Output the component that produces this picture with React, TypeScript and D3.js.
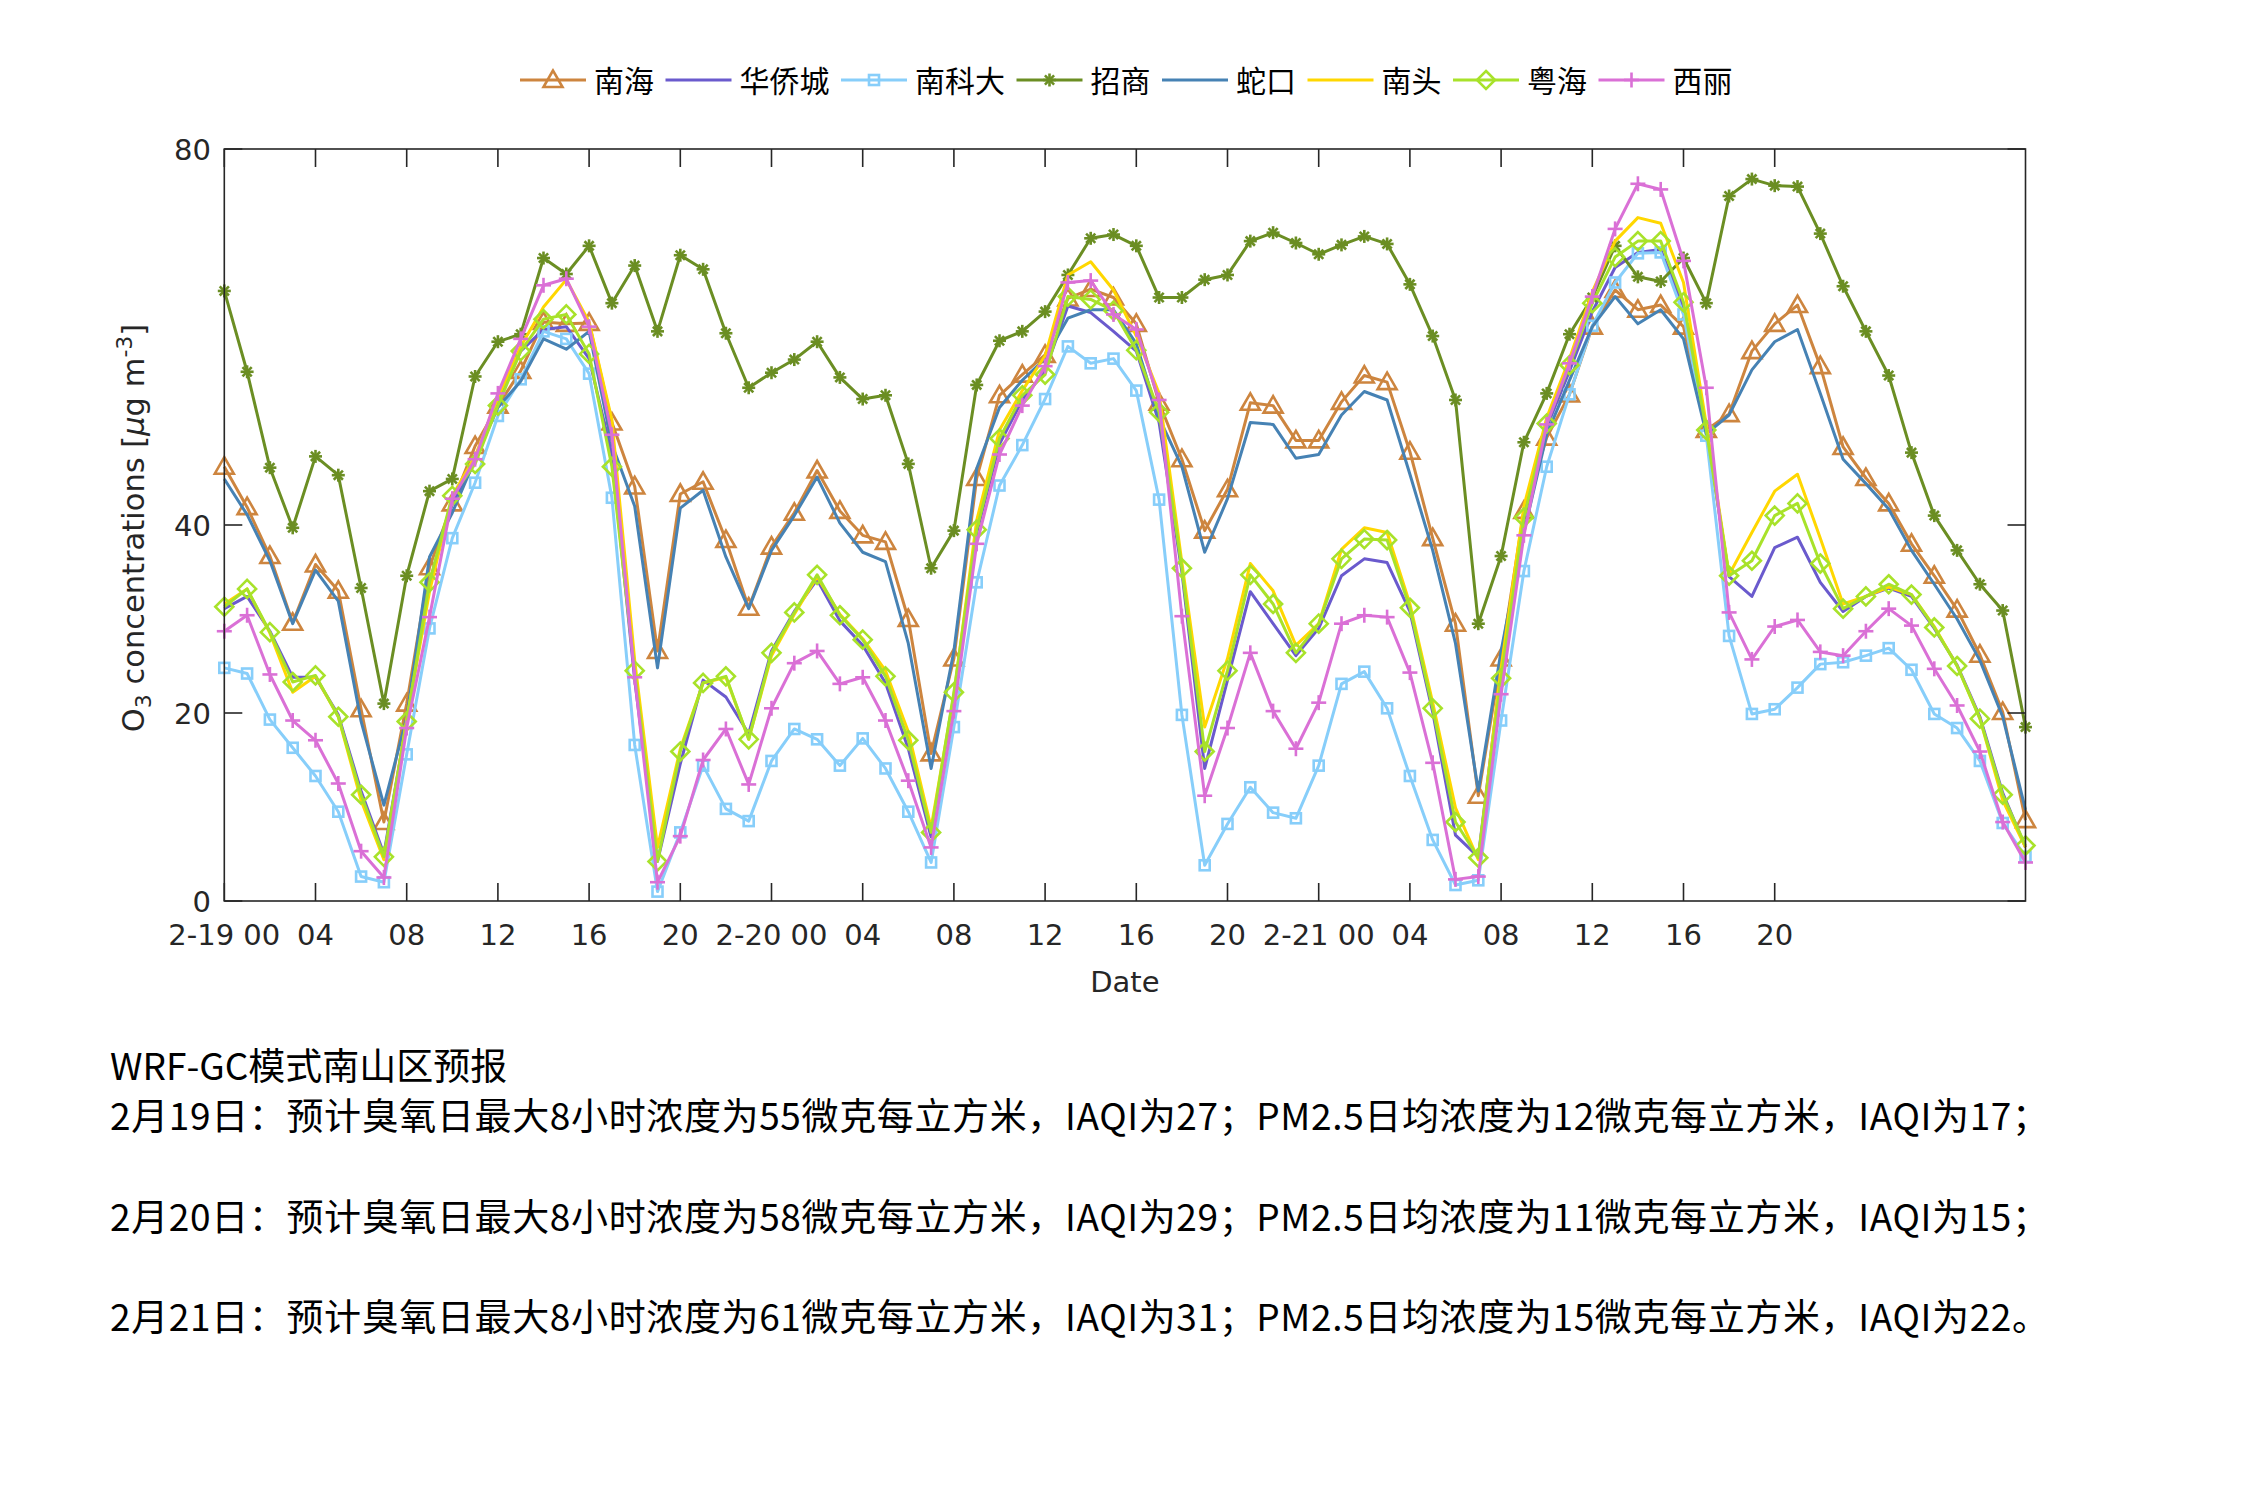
import React from 'react';
import * as d3 from 'd3';

const seriesNames = ['南海', '华侨城', '南科大', '招商', '蛇口', '南头', '粤海', '西丽'];
const seriesColors = ['#CD853F', '#6A5ACD', '#87CEFA', '#6B8E23', '#4682B4', '#FFD700', '#A8E22A', '#DA70D6'];
const seriesMarkers = ['triangle', 'none', 'square', 'asterisk', 'none', 'none', 'diamond', 'plus'];

const nanhai = [46.2, 41.9, 36.7, 29.6, 35.8, 33.0, 20.4, 8.4, 21.0, 35.5, 42.3, 48.4, 52.7, 56.4,
  61.6, 61.4, 61.5, 50.9, 44.1, 26.6, 43.3, 44.6, 38.4, 31.2, 37.7, 41.3, 45.8,
  41.5, 38.9, 38.2, 30.0, 15.7, 25.8, 45.0, 53.8, 56.0, 58.1, 64.1, 65.1, 64.2,
  61.4, 53.0, 47.0, 39.4, 43.8, 53.0, 52.7, 49.0, 49.0, 53.1, 55.9, 55.2, 47.8,
  38.6, 29.5, 11.2, 25.8, 41.5, 49.3, 53.9, 61.1, 65.0, 62.9, 63.4, 61.1, 50.1,
  51.8, 58.5, 61.4, 63.4, 56.9, 48.3, 45.0, 42.3, 38.0, 34.6, 31.0, 26.2, 20.1, 8.6];
const huaqiaocheng = [31.1, 32.4, 28.7, 23.8, 23.8, 19.8, 11.7, 5.0, 19.1, 33.9, 42.3, 46.7, 53.3, 58.5,
  60.8, 61.1, 57.7, 47.5, 23.5, 4.2, 14.6, 23.5, 21.7, 17.8, 26.6, 30.8, 34.2,
  29.8, 27.2, 23.2, 16.2, 6.8, 21.4, 39.2, 48.6, 53.3, 56.4, 63.3, 62.6, 60.6,
  58.5, 50.9, 35.0, 14.1, 23.5, 32.9, 29.5, 26.1, 29.0, 34.6, 36.4, 36.0, 30.8,
  20.1, 7.0, 4.7, 24.5, 40.7, 50.4, 56.4, 62.7, 67.4, 69.0, 69.3, 63.2, 50.1,
  34.5, 32.4, 37.6, 38.7, 33.9, 30.8, 32.4, 33.3, 32.4, 29.0, 25.1, 19.6, 11.5, 5.7];
const nankeda = [24.8, 24.2, 19.3, 16.3, 13.3, 9.5, 2.6, 2.0, 15.6, 29.0, 38.6, 44.5, 51.6, 55.5,
  60.6, 59.8, 56.1, 42.9, 16.6, 1.0, 7.3, 14.4, 9.8, 8.5, 14.9, 18.3, 17.2,
  14.4, 17.3, 14.1, 9.5, 4.1, 18.5, 33.9, 44.2, 48.5, 53.4, 59.0, 57.2, 57.7,
  54.3, 42.7, 19.8, 3.8, 8.2, 12.1, 9.4, 8.8, 14.4, 23.1, 24.4, 20.5, 13.3,
  6.5, 1.7, 2.2, 19.2, 35.1, 46.2, 53.9, 61.2, 65.8, 68.9, 69.0, 62.4, 49.5,
  28.2, 19.9, 20.4, 22.7, 25.2, 25.4, 26.1, 26.9, 24.6, 19.9, 18.4, 14.9, 8.3, 4.7];
const zhaoshang = [64.9, 56.3, 46.1, 39.7, 47.3, 45.3, 33.3, 21.0, 34.6, 43.6, 44.9, 55.8, 59.5, 60.3,
  68.4, 66.7, 69.7, 63.6, 67.6, 60.6, 68.7, 67.2, 60.4, 54.6, 56.2, 57.6, 59.5,
  55.7, 53.4, 53.8, 46.5, 35.4, 39.4, 54.9, 59.6, 60.6, 62.7, 66.6, 70.5, 70.9,
  69.7, 64.2, 64.2, 66.1, 66.6, 70.2, 71.1, 70.0, 68.8, 69.8, 70.7, 69.9, 65.6,
  60.1, 53.3, 29.5, 36.7, 48.8, 54.0, 60.3, 64.2, 69.7, 66.4, 65.9, 68.4, 63.6,
  75.0, 76.8, 76.1, 76.0, 71.0, 65.4, 60.6, 55.9, 47.7, 41.0, 37.3, 33.7, 30.9, 18.5];
const shekou = [44.9, 41.1, 36.2, 29.5, 35.2, 31.9, 19.1, 10.2, 19.5, 36.6, 41.3, 47.0, 52.5, 55.3,
  59.8, 58.7, 60.6, 48.6, 42.0, 24.8, 41.8, 43.7, 36.6, 31.1, 37.3, 41.0, 45.1,
  40.2, 37.1, 36.1, 27.4, 14.1, 26.6, 46.0, 52.5, 55.4, 57.7, 62.0, 62.9, 62.9,
  59.3, 51.4, 46.2, 37.1, 42.8, 50.9, 50.7, 47.1, 47.5, 51.7, 54.2, 53.3, 45.4,
  37.3, 27.4, 11.7, 26.6, 39.2, 49.6, 55.4, 61.1, 64.3, 61.4, 62.9, 59.8, 49.7,
  51.7, 56.5, 59.5, 60.8, 54.0, 47.0, 44.4, 41.7, 37.3, 33.7, 30.0, 25.6, 19.6, 9.7];
const nantou = [31.6, 33.2, 28.5, 22.2, 23.9, 19.6, 10.7, 4.4, 19.3, 32.9, 43.1, 47.3, 53.5, 59.0,
  63.2, 66.1, 61.6, 51.2, 25.6, 5.7, 16.2, 23.2, 23.8, 17.2, 26.1, 30.5, 34.5,
  30.5, 27.9, 24.5, 18.0, 7.8, 21.9, 40.5, 50.1, 54.3, 58.0, 66.6, 68.0, 65.0,
  60.1, 54.0, 36.0, 18.5, 25.8, 35.9, 33.0, 27.2, 29.5, 37.4, 39.7, 39.2, 31.6,
  21.1, 9.9, 4.4, 24.8, 42.0, 51.4, 57.7, 64.8, 70.2, 72.7, 72.1, 65.8, 50.7,
  34.7, 39.2, 43.6, 45.4, 38.6, 31.6, 32.4, 33.4, 32.6, 29.2, 25.0, 19.4, 10.7, 5.7];
const yuehai = [31.3, 33.2, 28.6, 23.3, 24.0, 19.6, 11.3, 4.7, 19.1, 33.9, 43.1, 46.5, 52.7, 58.5,
  61.9, 62.4, 58.2, 46.2, 24.5, 4.2, 15.9, 23.2, 23.9, 17.2, 26.4, 30.7, 34.7,
  30.4, 27.8, 23.9, 17.1, 7.3, 22.2, 39.5, 49.2, 53.8, 56.0, 64.3, 64.0, 62.8,
  58.6, 52.0, 35.4, 15.9, 24.5, 34.7, 31.6, 26.4, 29.5, 36.4, 38.5, 38.4, 31.2,
  20.5, 8.4, 4.6, 23.7, 40.8, 50.8, 57.0, 63.6, 68.5, 70.2, 70.2, 63.7, 50.1,
  34.6, 36.2, 41.0, 42.3, 35.9, 31.1, 32.4, 33.7, 32.6, 29.1, 25.0, 19.4, 11.3, 5.9];
const xili = [28.7, 30.4, 24.1, 19.2, 17.1, 12.5, 5.3, 2.5, 18.4, 30.2, 42.8, 47.0, 54.0, 59.8,
  65.5, 66.2, 61.1, 49.6, 23.8, 2.0, 6.9, 15.0, 18.3, 12.4, 20.5, 25.3, 26.6,
  23.1, 23.8, 19.2, 12.8, 5.7, 20.2, 38.0, 47.5, 52.7, 56.9, 65.8, 66.0, 62.4,
  60.8, 53.3, 30.3, 11.2, 18.4, 26.4, 20.2, 16.2, 21.1, 29.5, 30.4, 30.2, 24.3,
  14.7, 2.3, 2.6, 22.0, 38.9, 50.7, 57.2, 64.3, 71.5, 76.3, 75.7, 68.1, 54.6,
  30.7, 25.7, 29.2, 29.9, 26.5, 26.1, 28.7, 31.1, 29.3, 24.7, 20.8, 15.9, 8.4, 4.1];

const seriesValues = [nanhai, huaqiaocheng, nankeda, zhaoshang, shekou, nantou, yuehai, xili];

const xTickHours = [0, 4, 8, 12, 16, 20, 24, 28, 32, 36, 40, 44, 48, 52, 56, 60, 64, 68];
const xTickLabels = ['2-19 00', '04', '08', '12', '16', '20', '2-20 00', '04', '08', '12', '16', '20', '2-21 00', '04', '08', '12', '16', '20'];
const yTicks = [0, 20, 40, 80];

const textLines = [
  'WRF-GC模式南山区预报',
  '2月19日：预计臭氧日最大8小时浓度为55微克每立方米，IAQI为27；PM2.5日均浓度为12微克每立方米，IAQI为17；',
  '',
  '2月20日：预计臭氧日最大8小时浓度为58微克每立方米，IAQI为29；PM2.5日均浓度为11微克每立方米，IAQI为15；',
  '',
  '2月21日：预计臭氧日最大8小时浓度为61微克每立方米，IAQI为31；PM2.5日均浓度为15微克每立方米，IAQI为22。',
];

const AX = '#262626';
const TICK_FONT = '"DejaVu Sans", sans-serif';
const CJK_FONT = '"Noto Sans CJK SC", sans-serif';

function Marker({ type, cx, cy, color }: { type: string; cx: number; cy: number; color: string }) {
  const sw = 2.6;
  if (type === 'triangle') {
    return <polygon points={`${cx},${cy - 9.5} ${cx - 9.5},${cy + 7} ${cx + 9.5},${cy + 7}`} fill="none" stroke={color} strokeWidth={sw} />;
  }
  if (type === 'square') {
    return <rect x={cx - 5} y={cy - 5} width={10} height={10} fill="none" stroke={color} strokeWidth={sw} />;
  }
  if (type === 'diamond') {
    return <polygon points={`${cx},${cy - 9} ${cx + 9},${cy} ${cx},${cy + 9} ${cx - 9},${cy}`} fill="none" stroke={color} strokeWidth={sw} />;
  }
  if (type === 'plus') {
    return (
      <g stroke={color} strokeWidth={sw}>
        <line x1={cx - 7.5} y1={cy} x2={cx + 7.5} y2={cy} />
        <line x1={cx} y1={cy - 7.5} x2={cx} y2={cy + 7.5} />
      </g>
    );
  }
  if (type === 'asterisk') {
    const r = 6.5, d = 4.6;
    return (
      <g stroke={color} strokeWidth={2.6}>
        <line x1={cx - r} y1={cy} x2={cx + r} y2={cy} />
        <line x1={cx} y1={cy - r} x2={cx} y2={cy + r} />
        <line x1={cx - d} y1={cy - d} x2={cx + d} y2={cy + d} />
        <line x1={cx - d} y1={cy + d} x2={cx + d} y2={cy - d} />
      </g>
    );
  }
  return null;
}

export default function App() {
  const W = 2250, H = 1500;
  const left = 224.3, right = 2025.5, top = 149, bottom = 901;
  const x = d3.scaleLinear().domain([0, 79]).range([left, right]);
  const y = d3.scaleLinear().domain([0, 80]).range([bottom, top]);
  const line = d3.line<number>().x((_, i) => x(i)).y((d) => y(d));
  const tickLen = 18;

  const legendY = 80;
  let lx = 520;
  const legendItems = seriesNames.map((name, i) => {
    const item = { name, i, x: lx };
    lx += 74 + 30 * name.length + 11.5;
    return item;
  });

  return (
    <svg width={W} height={H} style={{ position: 'absolute', left: 0, top: 0, background: '#fff' }} xmlns="http://www.w3.org/2000/svg">
      <rect x={0} y={0} width={W} height={H} fill="#fff" />

      {seriesValues.map((vals, si) => (
        <g key={si}>
          <path d={line(vals) || ''} fill="none" stroke={seriesColors[si]} strokeWidth={3} strokeLinejoin="round" />
          {seriesMarkers[si] !== 'none' &&
            vals.map((v, i) => <Marker key={i} type={seriesMarkers[si]} cx={x(i)} cy={y(v)} color={seriesColors[si]} />)}
        </g>
      ))}

      <rect x={left} y={top} width={right - left} height={bottom - top} fill="none" stroke={AX} strokeWidth={1.6} />

      {xTickHours.map((h, i) => (
        <g key={'xt' + i}>
          <line x1={x(h)} x2={x(h)} y1={bottom} y2={bottom - tickLen} stroke={AX} strokeWidth={1.6} />
          <line x1={x(h)} x2={x(h)} y1={top} y2={top + tickLen} stroke={AX} strokeWidth={1.6} />
          <text x={x(h)} y={945} textAnchor="middle" fontFamily={TICK_FONT} fontSize={29} fill={AX}>
            {xTickLabels[i]}
          </text>
        </g>
      ))}

      {yTicks.map((t) => (
        <g key={'yt' + t}>
          <line x1={left} x2={left + tickLen} y1={y(t)} y2={y(t)} stroke={AX} strokeWidth={1.6} />
          <line x1={right} x2={right - tickLen} y1={y(t)} y2={y(t)} stroke={AX} strokeWidth={1.6} />
          <text x={211} y={y(t) + 10.5} textAnchor="end" fontFamily={TICK_FONT} fontSize={29} fill={AX}>
            {t}
          </text>
        </g>
      ))}

      <text x={(left + right) / 2} y={992} textAnchor="middle" fontFamily={TICK_FONT} fontSize={29} fill={AX}>
        Date
      </text>
      <text transform={`translate(144, ${(top + bottom) / 2 + 3}) rotate(-90)`} textAnchor="middle" fontFamily={TICK_FONT} fontSize={30.5} fill={AX}>
        <tspan>O</tspan>
        <tspan fontSize={22} dy={7}>3</tspan>
        <tspan dy={-7}> concentrations [</tspan>
        <tspan fontStyle="italic">μ</tspan>
        <tspan>g m</tspan>
        <tspan fontSize={22} dy={-12}>-3</tspan>
        <tspan dy={12}>]</tspan>
      </text>

      {legendItems.map((it) => (
        <g key={'lg' + it.i}>
          <line x1={it.x} x2={it.x + 66} y1={legendY} y2={legendY} stroke={seriesColors[it.i]} strokeWidth={3} />
          <Marker type={seriesMarkers[it.i]} cx={it.x + 33} cy={legendY} color={seriesColors[it.i]} />
          <text x={it.x + 74} y={legendY + 11.5} fontFamily={CJK_FONT} fontSize={30} fill="#000">
            {it.name}
          </text>
        </g>
      ))}

      {textLines.map((t, i) => (
        <text
          key={'tl' + i}
          x={110}
          y={1080 + i * 50.2}
          fontFamily={CJK_FONT}
          fontSize={37}
          fill="#000"
          {...(i > 0 && t ? { textLength: 1939, lengthAdjust: 'spacing' } : {})}
        >
          {t}
        </text>
      ))}
    </svg>
  );
}
